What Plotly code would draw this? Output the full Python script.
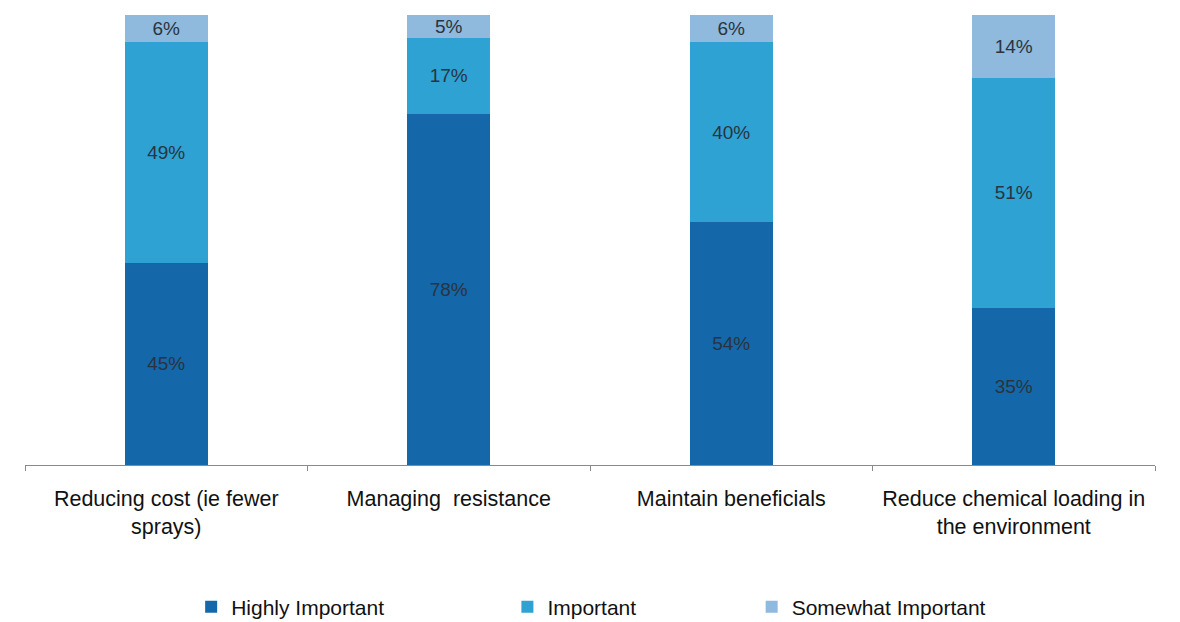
import plotly.graph_objects as go

categories = [
    "Reducing cost (ie fewer<br>sprays)",
    "Managing  resistance",
    "Maintain beneficials",
    "Reduce chemical loading in<br>the environment",
]
highly_important = [45, 78, 54, 35]
important = [49, 17, 40, 51]
somewhat_important = [6, 5, 6, 14]

series = [
    ("Highly Important", highly_important, "#1467a9", "legend"),
    ("Important", important, "#2da2d3", "legend2"),
    ("Somewhat Important", somewhat_important, "#8fb9dd", "legend3"),
]

FONT = "Liberation Sans, Arial, sans-serif"

fig = go.Figure()
for name, vals, color, leg in series:
    fig.add_trace(go.Bar(
        x=categories,
        y=vals,
        name=name,
        marker=dict(color=color, line=dict(width=0)),
        width=0.295,
        text=[f"{v}%" for v in vals],
        textposition="inside",
        insidetextanchor="middle",
        textangle=0,
        textfont=dict(family=FONT, size=19, color="#2a3440"),
        legend=leg,
    ))

legend_style = dict(
    orientation="h",
    xref="container", yref="container",
    yanchor="middle", y=0.024,
    font=dict(family=FONT, size=21, color="#111"),
    itemwidth=30,
    bgcolor="rgba(0,0,0,0)",
)

fig.update_layout(
    width=1180, height=622,
    margin=dict(l=25, r=25, t=15, b=157),
    paper_bgcolor="white", plot_bgcolor="white",
    barmode="stack",
    showlegend=True,
    legend=dict(legend_style, x=0.162),
    legend2=dict(legend_style, x=0.43),
    legend3=dict(legend_style, x=0.637),
    font=dict(family=FONT),
    uniformtext=dict(mode="show", minsize=19),
)
fig.update_xaxes(
    showline=True, linecolor="#8a8a8a", linewidth=1,
    ticks="outside", tickson="boundaries", ticklen=5, tickcolor="#8a8a8a",
    tickfont=dict(family=FONT, size=21.5, color="#111"),
    ticklabelstandoff=14,
    showgrid=False,
)
fig.update_yaxes(range=[0, 100], visible=False, showgrid=False)

fig.write_html("out.html")
